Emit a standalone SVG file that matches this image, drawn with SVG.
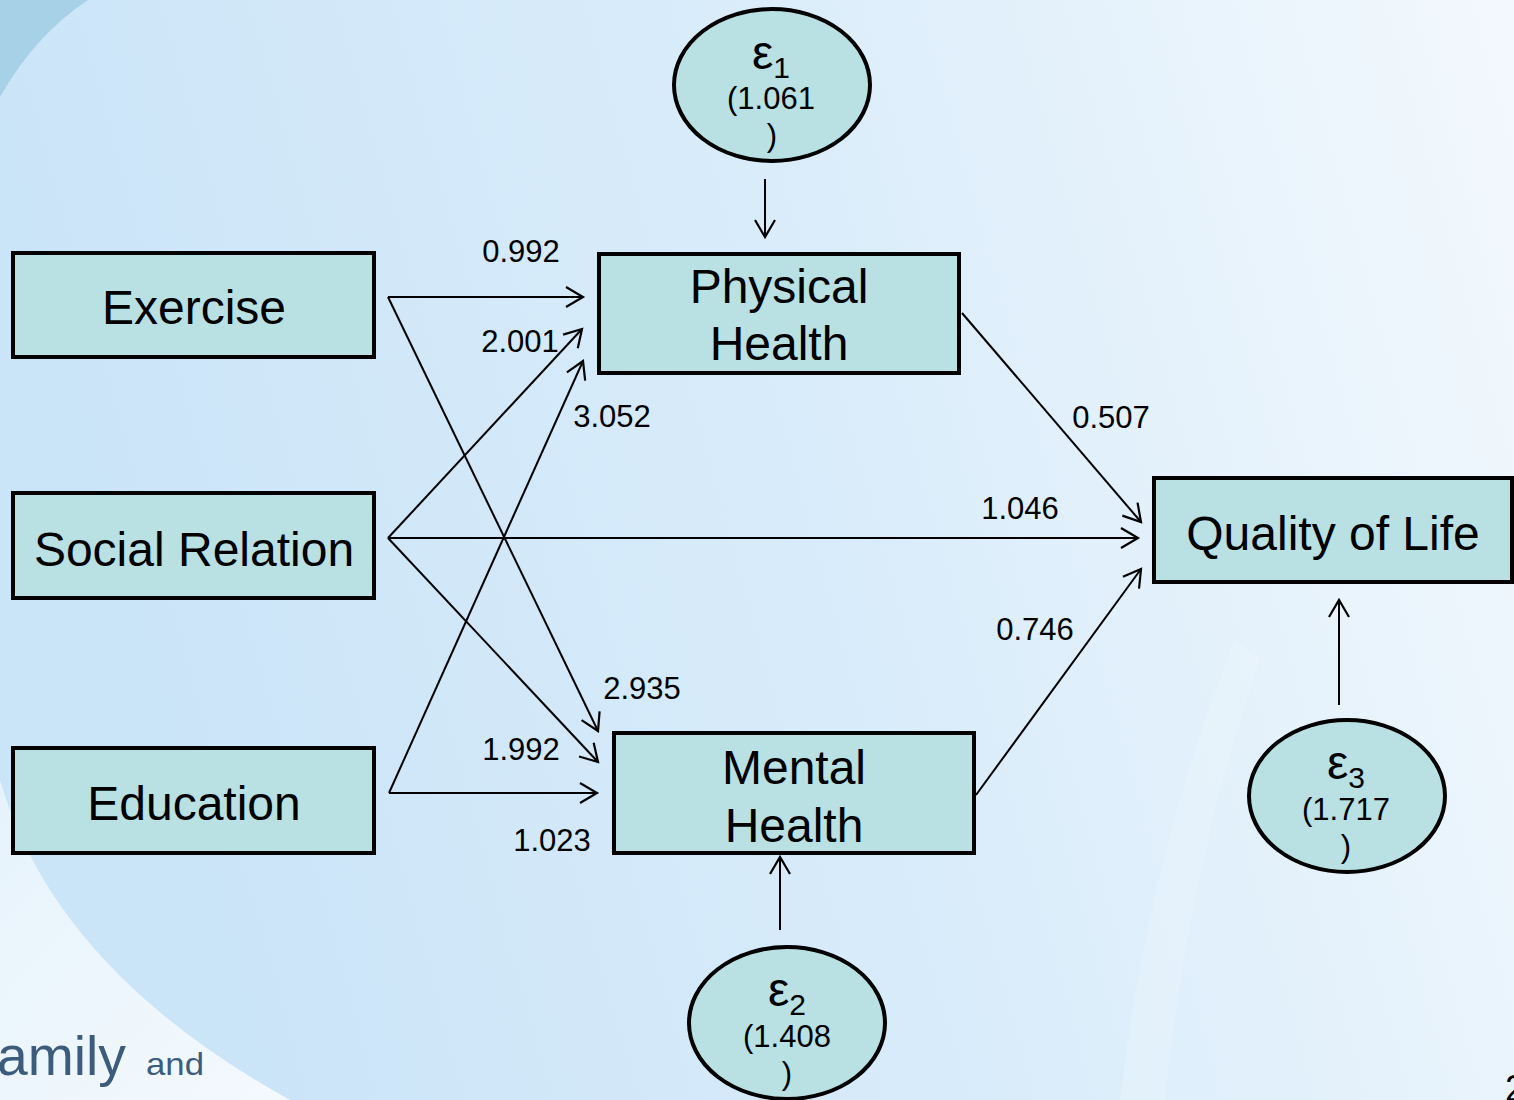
<svg xmlns="http://www.w3.org/2000/svg" width="1514" height="1100" viewBox="0 0 1514 1100">
<defs>
<linearGradient id="bg" x1="0" y1="0.3" x2="1" y2="0.1">
<stop offset="0" stop-color="#cae4f8"/>
<stop offset="0.5" stop-color="#d9ecfa"/>
<stop offset="1" stop-color="#f2f8fd"/>
</linearGradient>
<linearGradient id="wl" x1="0" y1="0" x2="1" y2="1">
<stop offset="0" stop-color="#e6f3fc"/>
<stop offset="1" stop-color="#f4f9fd"/>
</linearGradient>
<marker id="ah" markerWidth="40" markerHeight="40" refX="20" refY="20" orient="auto" markerUnits="userSpaceOnUse" viewBox="0 0 40 40">
<path d="M3,10 L20,20 L3,30" fill="none" stroke="#000" stroke-width="2.2"/>
</marker>
</defs>
<style>
.box{fill:#b9e0e3;stroke:#000;stroke-width:4}
.ell{fill:#b9e0e3;stroke:#000;stroke-width:4}
.big{font-family:"Liberation Sans",Arial,sans-serif;font-size:48px;fill:#000;text-anchor:middle}
.lbl{font-family:"Liberation Sans",Arial,sans-serif;font-size:31px;fill:#000;text-anchor:middle}
.eps{font-family:"Liberation Sans",Arial,sans-serif;font-size:48px;fill:#000}
.sub{font-family:"Liberation Sans",Arial,sans-serif;font-size:30px;fill:#000}
.edge{stroke:#000;stroke-width:2;fill:none;marker-end:url(#ah)}
.logo{font-family:"Liberation Sans",Arial,sans-serif;fill:#3b5c7c}
</style>
<g id="background">
<rect x="0" y="0" width="1514" height="1100" fill="url(#bg)"/>
<path d="M0,0 L88,0 Q35,35 0,97 Z" fill="#a7d1e6"/>
<path d="M0,780 Q55,970 290,1100 L0,1100 Z" fill="url(#wl)"/>
<path d="M1235,640 Q1150,850 1120,1100 L1165,1100 Q1190,860 1260,660 Z" fill="#eef7fd" opacity="0.35"/>
<text class="logo" x="-3" y="1075" font-size="56" textLength="129" lengthAdjust="spacingAndGlyphs">amily</text>
<text class="logo" x="146" y="1075" font-size="32" textLength="58" lengthAdjust="spacingAndGlyphs">and</text>
<text x="1505" y="1101" font-family="Liberation Sans,Arial,sans-serif" font-size="36" fill="#000">2</text>
</g>
<g id="connectors">
<line class="edge" x1="765" y1="179" x2="765" y2="237"/>
<line class="edge" x1="388" y1="297" x2="583" y2="297"/>
<line class="edge" x1="388" y1="297" x2="598" y2="731"/>
<line class="edge" x1="388" y1="538" x2="582" y2="329"/>
<line class="edge" x1="389" y1="793" x2="583" y2="361"/>
<line class="edge" x1="388" y1="538" x2="1138" y2="538"/>
<line class="edge" x1="388" y1="538" x2="598" y2="762"/>
<line class="edge" x1="389" y1="793" x2="597" y2="793"/>
<line class="edge" x1="962" y1="313" x2="1141" y2="522"/>
<line class="edge" x1="976" y1="795" x2="1141" y2="569"/>
<line class="edge" x1="780" y1="930" x2="780" y2="857"/>
<line class="edge" x1="1339" y1="705" x2="1339" y2="600"/>
<text class="lbl" x="521" y="262">0.992</text>
<text class="lbl" x="520" y="352">2.001</text>
<text class="lbl" x="612" y="427">3.052</text>
<text class="lbl" x="1111" y="428">0.507</text>
<text class="lbl" x="1020" y="519">1.046</text>
<text class="lbl" x="1035" y="640">0.746</text>
<text class="lbl" x="642" y="699">2.935</text>
<text class="lbl" x="521" y="760">1.992</text>
<text class="lbl" x="552" y="851">1.023</text>
</g>
<g id="exercise">
<rect class="box" x="13" y="253" width="361" height="104"/>
<text class="big" x="194" y="324">Exercise</text>
</g>
<g id="social-relation">
<rect class="box" x="13" y="493" width="361" height="105"/>
<text class="big" x="194" y="566">Social Relation</text>
</g>
<g id="education">
<rect class="box" x="13" y="748" width="361" height="105"/>
<text class="big" x="194" y="820">Education</text>
</g>
<g id="physical-health">
<rect class="box" x="599" y="254" width="360" height="119"/>
<text class="big" x="779" y="303">Physical</text>
<text class="big" x="779" y="360">Health</text>
</g>
<g id="mental-health">
<rect class="box" x="614" y="733" width="360" height="120"/>
<text class="big" x="794" y="784">Mental</text>
<text class="big" x="794" y="842">Health</text>
</g>
<g id="quality-of-life">
<rect class="box" x="1154" y="478" width="358" height="104"/>
<text class="big" x="1333" y="550">Quality of Life</text>
</g>
<g id="e1">
<ellipse class="ell" cx="772" cy="85" rx="98" ry="76"/>
<text x="771" y="69" text-anchor="middle"><tspan class="eps">ε</tspan><tspan class="sub" dy="9">1</tspan></text>
<text class="lbl" x="771" y="109">(1.061</text>
<text class="lbl" x="772" y="146">)</text>
</g>
<g id="e2">
<ellipse class="ell" cx="787" cy="1023" rx="98" ry="76"/>
<text x="787" y="1006" text-anchor="middle"><tspan class="eps">ε</tspan><tspan class="sub" dy="9">2</tspan></text>
<text class="lbl" x="787" y="1047">(1.408</text>
<text class="lbl" x="787" y="1084">)</text>
</g>
<g id="e3">
<ellipse class="ell" cx="1347" cy="796" rx="98" ry="76"/>
<text x="1346" y="779" text-anchor="middle"><tspan class="eps">ε</tspan><tspan class="sub" dy="9">3</tspan></text>
<text class="lbl" x="1346" y="820">(1.717</text>
<text class="lbl" x="1346" y="857">)</text>
</g>
</svg>
